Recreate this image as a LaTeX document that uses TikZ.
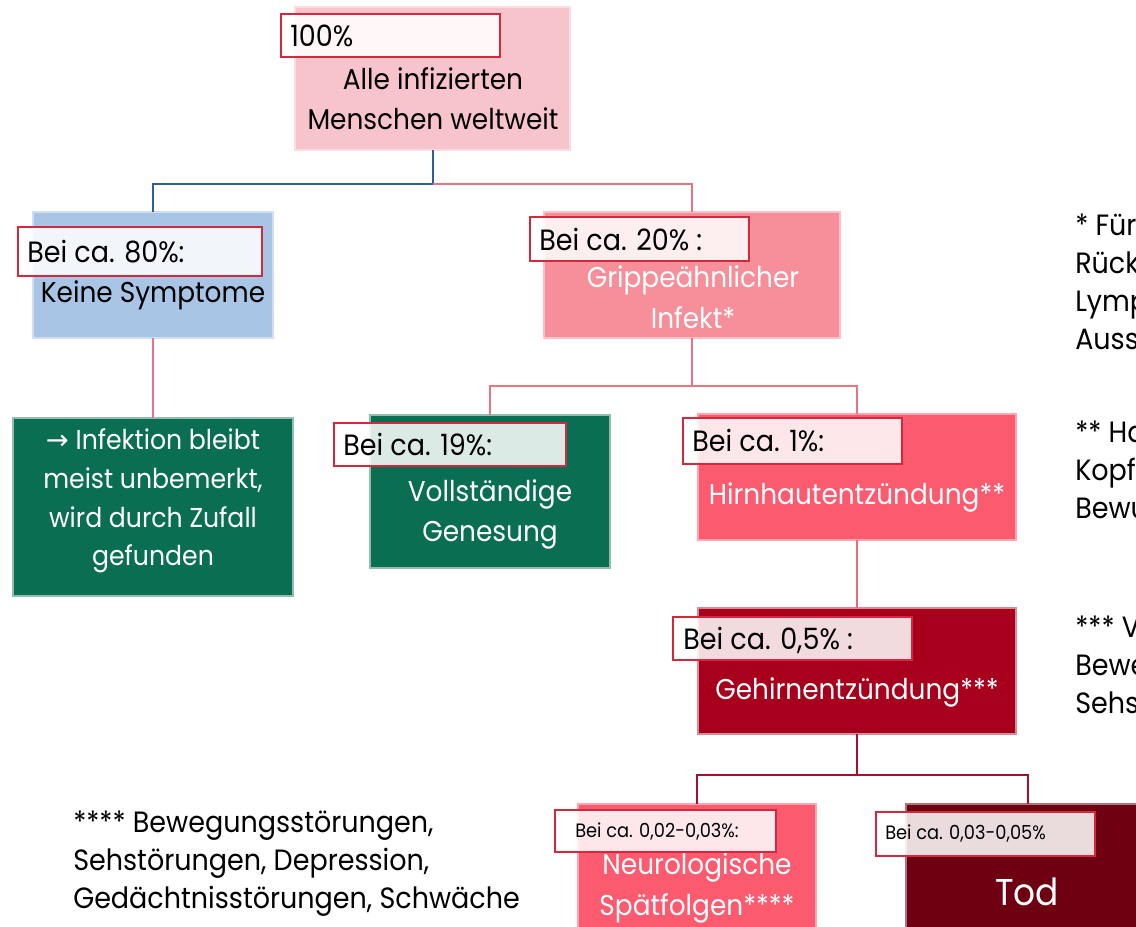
\documentclass[tikz,border=0pt]{standalone}
\usepackage{fontspec}
\setmainfont{Poppins}[FakeStretch=0.92]
\newfontfamily\symf{DejaVu Sans}
\definecolor{toppink}{RGB}{248,196,204}
\definecolor{keineblue}{RGB}{168,197,230}
\definecolor{dgreen}{RGB}{10,111,82}
\definecolor{grippink}{RGB}{247,143,154}
\definecolor{hirnred}{RGB}{252,90,111}
\definecolor{gehirnred}{RGB}{168,0,28}
\definecolor{todred}{RGB}{110,0,17}
\definecolor{lblred}{RGB}{212,40,62}
\definecolor{lineblue}{RGB}{46,94,158}
\definecolor{linepink}{RGB}{232,118,130}
\definecolor{linedark}{RGB}{168,16,42}
\newcommand\mainf{\fontsize{21.5pt}{30pt}\selectfont}
\newcommand\lblf{\fontsize{22pt}{26pt}\selectfont}
\newcommand\smlf{\fontsize{14.5pt}{18pt}\selectfont}
\newcommand\notef{\fontsize{22pt}{28.5pt}\selectfont}
\begin{document}
\begin{tikzpicture}[x=0.75pt,y=-0.75pt,
  box/.style={anchor=north west, inner sep=0pt, outer sep=0pt, line width=1.2pt},
  lbl/.style={anchor=north west, inner sep=0pt, outer sep=0pt, draw=lblred, line width=1.5pt, fill=white, fill opacity=0.86},
  lt/.style={anchor=west, inner sep=0pt, font=\lblf, text=black},
  ltsm/.style={anchor=west, inner sep=0pt, font=\smlf, text=black},
  mt/.style={align=center, inner sep=0pt, font=\mainf},
  note/.style={anchor=west, align=left, inner sep=0pt, font=\notef},
  con/.style={line width=1.5pt}]
\useasboundingbox (0,0) rectangle (1136,926);
\clip (0,0) rectangle (1136,926);

% boxes
\node[box, fill=toppink, draw=toppink!60!white, minimum width=206.25pt, minimum height=107.25pt] (top) at (295,7) {};
\node[box, fill=keineblue, draw=keineblue!55!white, minimum width=180pt, minimum height=94.5pt] (keine) at (33,212) {};
\node[box, fill=dgreen, draw=dgreen!45!white, minimum width=210pt, minimum height=133.5pt] (unbem) at (13,418) {};
\node[box, fill=grippink, draw=grippink!55!white, minimum width=222pt, minimum height=94.5pt] (gripp) at (544,212) {};
\node[box, fill=dgreen, draw=dgreen!45!white, minimum width=180pt, minimum height=114.75pt] (voll) at (370,415) {};
\node[box, fill=hirnred, draw=hirnred!55!white, minimum width=238.5pt, minimum height=94.5pt] (hirn) at (698,414) {};
\node[box, fill=gehirnred, draw=gehirnred!45!white, minimum width=238.5pt, minimum height=94.5pt] (gehirn) at (698,608) {};
\node[box, fill=hirnred, draw=hirnred!55!white, minimum width=178.5pt, minimum height=117pt] (neuro) at (578,804) {};
\node[box, fill=todred, draw=todred!55!white, minimum width=183pt, minimum height=117pt] (tod) at (906,804) {};

% connectors
\coordinate (y1) at (0,184);
\coordinate (y2) at (0,386);
\coordinate (y3) at (0,775);
\coordinate (j1) at (top.south |- y1);
\coordinate (j2) at (gripp.south |- y2);
\coordinate (j3) at (gehirn.south |- y3);
\draw[con, lineblue] (top.south) -- (j1) -| (keine.north);
\draw[con, linepink] (j1) -| (gripp.north);
\draw[con, linepink] (keine.south) -- (unbem.north);
\draw[con, linepink] (gripp.south) -- (j2) -| (voll.north);
\draw[con, linepink] (j2) -| (hirn.north);
\draw[con, linepink!90!red] (hirn.south) -- (gehirn.north);
\draw[con, linedark] (gehirn.south) -- (j3) -| (neuro.north);
\draw[con, linedark] (j3) -| (tod.north);

% main texts
\node[mt] (ttop) at (433,99) {Alle infizierten\\Menschen weltweit};
\node[mt] (tkeine) at (153,295) {Keine Symptome};
\node[mt, text=white, font=\fontsize{20.5pt}{29pt}\selectfont] (tunbem) at (153,501) {{\symf →} Infektion bleibt\\meist unbemerkt,\\wird durch Zufall\\gefunden};
\node[mt, text=white, font=\fontsize{21.5pt}{31pt}\selectfont] (tgripp) at (693,297) {Grippeähnlicher\\Infekt*};
\node[mt, text=white] (tvoll) at (490,514) {Vollständige\\Genesung};
\node[mt, text=white] (thirn) at (857,497) {Hirnhautentzündung**};
\node[mt, text=white] (tgehirn) at (857,692) {Gehirnentzündung***};
\node[mt, text=white, font=\fontsize{21.5pt}{31pt}\selectfont] (tneuro) at (697,888) {Neurologische\\Spätfolgen****};
\node[mt, text=white, font=\fontsize{28pt}{34pt}\selectfont] (ttod) at (1027,892) {Tod};

% labels
\node[lbl, minimum width=164.25pt, minimum height=32.25pt] (l100) at (281,14) {};
\node[lt] (t100) at (290,36) {100\%};
\node[lbl, minimum width=183pt, minimum height=36.75pt] (l80) at (18,227) {};
\node[lt] (t80) at (27,252) {Bei ca. 80\%:};
\node[lbl, minimum width=164.25pt, minimum height=33pt] (l20) at (530,217) {};
\node[lt] (t20) at (539,240) {Bei ca. 20\% :};
\node[lbl, minimum width=174pt, minimum height=32.25pt] (l19) at (334,423) {};
\node[lt] (t19) at (343,445) {Bei ca. 19\%:};
\node[lbl, minimum width=164.25pt, minimum height=34.5pt] (l1) at (683,418) {};
\node[lt] (t1) at (692,441) {Bei ca. 1\%:};
\node[lbl, minimum width=179.25pt, minimum height=32.25pt] (l05) at (673,617) {};
\node[lt] (t05) at (683,640) {Bei ca. 0,5\% :};
\node[lbl, minimum width=165.75pt, minimum height=31.5pt] (l002) at (555,810) {};
\node[ltsm] (t002) at (575,832) {Bei ca. 0,02-0,03\%:};
\node[lbl, minimum width=164.25pt, minimum height=33pt] (l003) at (876,812) {};
\node[ltsm] (t003) at (885,834) {Bei ca. 0,03-0,05\%};

% footnotes
\node[note] (n4) at (73,864) {**** Bewegungsstörungen,\\Sehstörungen, Depression,\\Gedächtnisstörungen, Schwäche};
\node[note] (n1) at (1075,282) {* Für\\Rück\\Lymp\\Auss};
\node[note] (n2) at (1075,470) {** Ha\\Kopf\\Bewu};
\node[note] (n3) at (1075,665) {*** V\\Bewe\\Sehs};
\end{tikzpicture}
\end{document}
